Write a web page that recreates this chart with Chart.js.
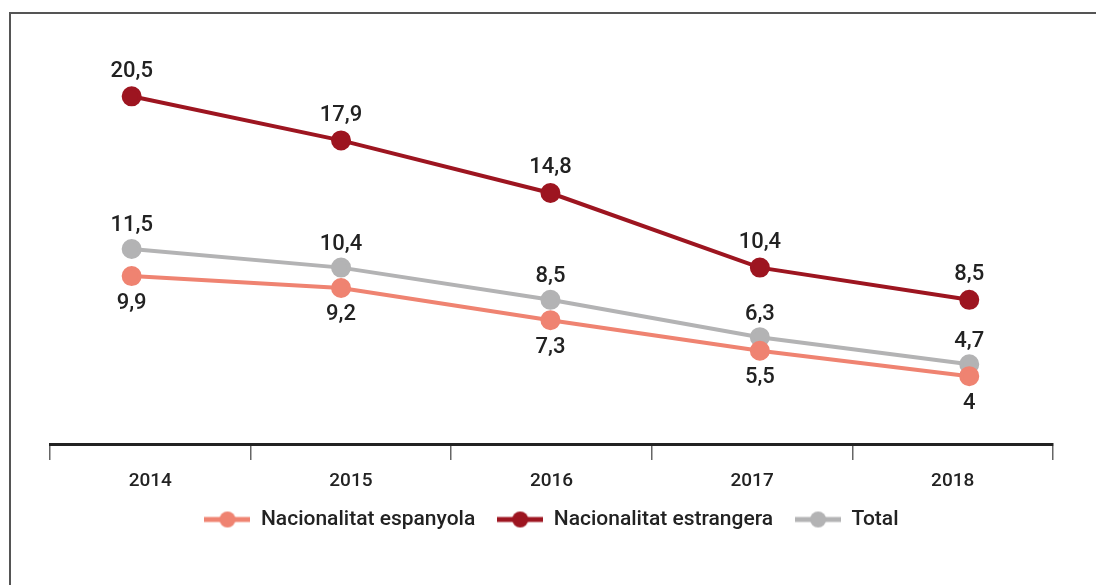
<!DOCTYPE html>
<html>
<head>
<meta charset="utf-8">
<script src="https://cdn.jsdelivr.net/npm/chart.js@4.4.1/dist/chart.umd.min.js"></script>
<style>
  html, body { margin: 0; padding: 0; background: #fff; }
  #wrap { position: relative; width: 1096px; height: 585px; overflow: hidden; }
  #frame { position: absolute; left: 9px; top: 12px; width: 1200px; height: 700px;
           border-left: 2px solid #555; border-top: 2px solid #555; }
  canvas { position: absolute; left: 0; top: 0; }
</style>
</head>
<body>
<div id="wrap">
  <div id="frame"></div>
  <canvas id="c" width="1096" height="585"></canvas>
</div>
<script>
// ---- data ----
const years = ['2014', '2015', '2016', '2017', '2018'];
const espanyola = [9.9, 9.2, 7.3, 5.5, 4];
const estrangera = [20.5, 17.9, 14.8, 10.4, 8.5];
const total = [11.5, 10.4, 8.5, 6.3, 4.7];
const seriesNames = ['Nacionalitat espanyola', 'Nacionalitat estrangera', 'Total'];

// ---- styles ----
const colors = ['#ef8371', '#9d1520', '#b3b3b4'];
const labelOffsets = [27, -25, -23];
const FONT = 'Roboto';
const TEXT = '#222222';

function legendIcon(color) {
  const cv = document.createElement('canvas');
  cv.width = 46; cv.height = 18;
  const g = cv.getContext('2d');
  g.fillStyle = color;
  g.fillRect(0, 6.5, 46, 5);
  g.beginPath();
  g.arc(23, 9, 8, 0, Math.PI * 2);
  g.fill();
  return cv;
}

function fmt(v) { return String(v).replace('.', ','); }

const seriesValues = [espanyola, estrangera, total];
const datasets = seriesValues.map((vals, k) => ({
  label: seriesNames[k],
  data: vals.map((v, i) => ({ x: i, y: v })),
  borderColor: colors[k],
  backgroundColor: colors[k],
  pointBackgroundColor: colors[k],
  pointBorderColor: colors[k],
  borderWidth: 4,
  pointRadius: 8,
  pointHoverRadius: 8,
  pointStyle: 'circle',
  tension: 0,
  xAxisID: 'xp',
  yAxisID: 'y',
  labelOffset: labelOffsets[k],
  legendIcon: legendIcon(colors[k])
}));

const valueLabels = {
  id: 'valueLabels',
  afterDatasetsDraw(chart) {
    const ctx = chart.ctx;
    ctx.save();
    ctx.font = '500 22px ' + FONT;
    ctx.fillStyle = TEXT;
    ctx.textAlign = 'center';
    ctx.textBaseline = 'middle';
    chart.data.datasets.forEach((ds, k) => {
      const meta = chart.getDatasetMeta(k);
      meta.data.forEach((pt, i) => {
        ctx.fillText(fmt(seriesValues[k][i]), pt.x, pt.y + ds.labelOffset);
      });
    });
    ctx.restore();
  }
};

new Chart(document.getElementById('c'), {
  type: 'line',
  data: { labels: years, datasets },
  options: {
    responsive: false,
    animation: false,
    events: [],
    layout: { padding: { left: 50, right: 43, top: 20, bottom: 45 } },
    scales: {
      x: {
        type: 'category',
        position: 'bottom',
        offset: true,
        grid: { offset: true, drawOnChartArea: false, drawTicks: true, tickLength: 16, color: '#666', lineWidth: 1.5 },
        border: { display: true, color: '#222', width: 3 },
        ticks: { color: TEXT, font: { family: FONT, size: 19, weight: '500' }, padding: 10 },
        afterFit(scale) { scale.height = 43; }
      },
      xp: { type: 'linear', display: false, min: -0.39, max: 4.40 },
      y: { type: 'linear', display: false, min: 0, max: 25 }
    },
    plugins: {
      legend: {
        display: true,
        position: 'bottom',
        labels: {
          usePointStyle: true,
          pointStyleWidth: 46,
          padding: 22,
          color: TEXT,
          font: { family: FONT, size: 21, weight: '500' },
          generateLabels(chart) {
            return chart.data.datasets.map((ds, k) => ({
              text: ds.label,
              pointStyle: ds.legendIcon,
              fillStyle: ds.backgroundColor,
              strokeStyle: ds.borderColor,
              lineWidth: 0,
              fontColor: TEXT,
              hidden: false,
              datasetIndex: k
            }));
          }
        }
      },
      tooltip: { enabled: false }
    }
  },
  plugins: [valueLabels]
});
</script>
</body>
</html>
